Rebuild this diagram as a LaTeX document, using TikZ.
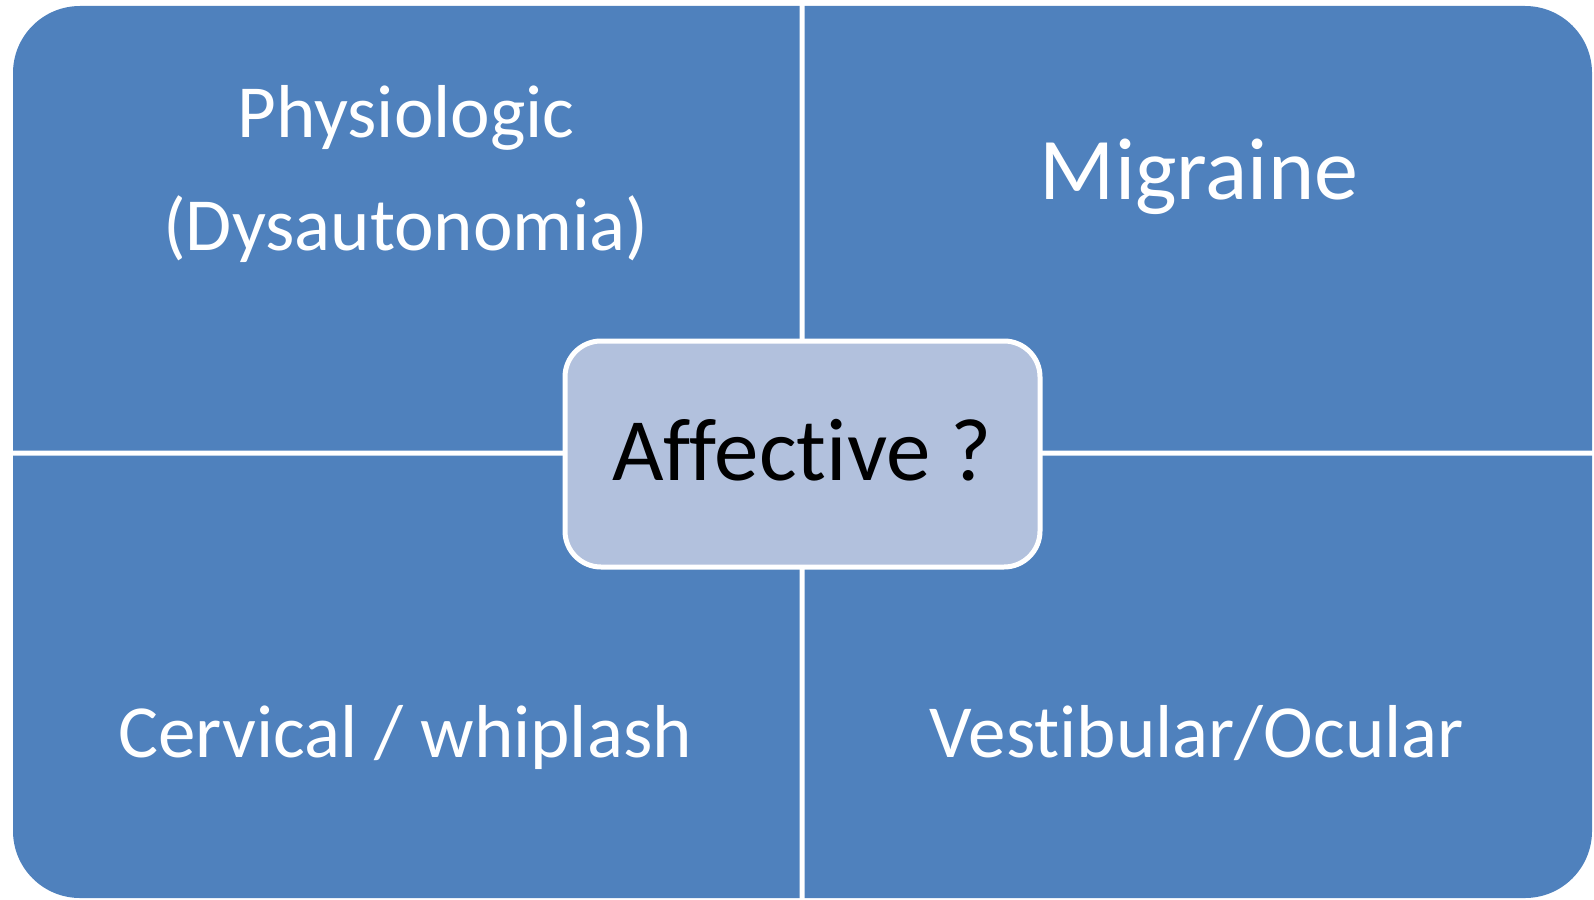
\documentclass[tikz,border=0pt]{standalone}
\usepackage{fontspec}
\setmainfont{Carlito}[Ligatures={NoCommon,NoRare,NoContextual}]
\definecolor{quadblue}{HTML}{4F81BD}
\definecolor{centerfill}{HTML}{B2C1DD}
\begin{document}
\begin{tikzpicture}[x=1pt,y=-1pt,
  quad/.style={fill=quadblue},
  qtext/.style={text=white,anchor=base,inner sep=0pt,font=\fontsize{75}{88}\selectfont},
  bigtext/.style={text=white,anchor=base,inner sep=0pt,font=\fontsize{88}{100}\selectfont},
  centerbox/.style={draw=white,line width=5pt,fill=centerfill,rounded corners=36pt}]
\useasboundingbox (0,0) rectangle (1594,899);
% quadrants
\fill[quad] (13,450.5) -- (13,73) arc[start angle=180,end angle=270,radius=67] -- (799.5,6) -- (799.5,450.5) -- cycle;
\fill[quad] (804.5,450.5) -- (804.5,6) -- (1525,6) arc[start angle=270,end angle=360,radius=67] -- (1592,450.5) -- cycle;
\fill[quad] (13,455.5) -- (799.5,455.5) -- (799.5,898) -- (80,898) arc[start angle=90,end angle=180,radius=67] -- cycle;
\fill[quad] (804.5,455.5) -- (1592,455.5) -- (1592,831) arc[start angle=0,end angle=90,radius=67] -- (804.5,898) -- cycle;
% centre box
\draw[centerbox] (565,341) rectangle (1040,567);
% texts
\node[qtext] (phys1) at (406,137) {Physiologic};
\node[qtext] (phys2) at (406,250) {(Dysautonomia)};
\node[bigtext] (migr) at (1199,199) {Migraine};
\node[qtext] (cerv) at (405,757) {Cervical / whiplash};
\node[qtext] (vest) at (1197,757) {Vestibular/Ocular};
\node[anchor=base,inner sep=0pt,font=\fontsize{89}{100}\selectfont,text=black] (aff) at (802,480) {Affective ?};
\end{tikzpicture}
\end{document}
